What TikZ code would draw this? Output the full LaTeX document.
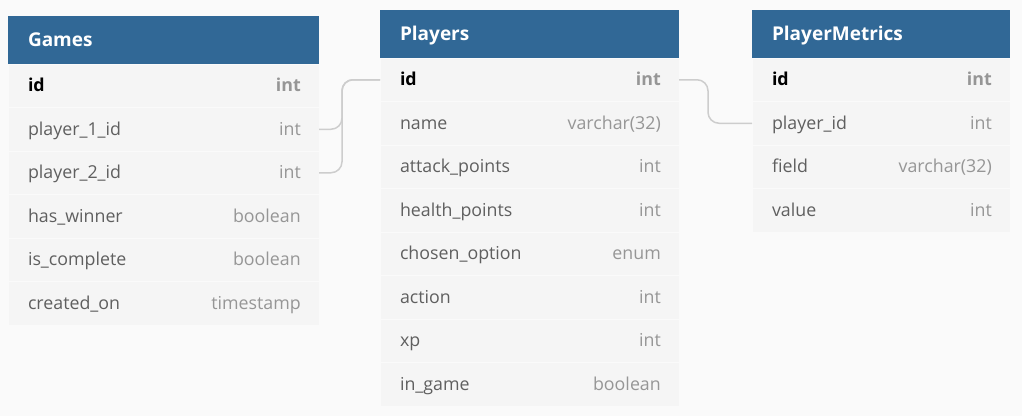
\documentclass[tikz,border=0pt]{standalone}
\usepackage{fontspec}
\setmainfont{Open Sans}
\usetikzlibrary{positioning}
\definecolor{headblue}{RGB}{49,104,150}
\definecolor{rowfill}{RGB}{245,245,245}
\definecolor{rowline}{RGB}{250,250,250}
\definecolor{pagebg}{RGB}{250,250,250}
\definecolor{namegray}{RGB}{95,95,95}
\definecolor{typegray}{RGB}{150,150,150}
\definecolor{linkgray}{RGB}{205,205,205}
\tikzset{head/.style = {rectangle,
                        fill=headblue,
                        text=white,
                        font=\fontsize{19}{21}\selectfont\bfseries,
                        inner xsep=20pt,
                        inner ysep=0pt,
                        outer sep=0pt,
                        minimum height=48pt,
                        text height=15pt,
                        text depth=1.5pt,
                        align=left},
         row/.style = {rectangle,
                       fill=rowfill,
                       draw=rowline,
                       line width=0.8pt,
                       text=namegray,
                       font=\fontsize{17.8}{20}\selectfont,
                       inner xsep=20pt,
                       inner ysep=0pt,
                       outer sep=0pt,
                       minimum height=43.5pt,
                       text height=14.5pt,
                       text depth=2.5pt,
                       align=left},
         typ/.style = {text=typegray,
                       font=\fontsize{17.8}{20}\selectfont,
                       inner sep=0pt,
                       text height=14.5pt,
                       text depth=2.5pt},
         key/.style = {font=\fontsize{17.8}{20}\selectfont\bfseries},
         pk/.style = {text=black},
         wg/.style = {text width=271pt},
         wp/.style = {text width=259pt},
         wm/.style = {text width=218pt},
         link/.style = {draw=linkgray, line width=1.5pt, rounded corners=11pt}}

\begin{document}
\begin{tikzpicture}
    \useasboundingbox[fill=pagebg] (0pt,0pt) rectangle (1022pt,-416pt);
    % Games
    \node (g) [head, wg, anchor=north west] at (8pt,-16pt) {Games};
    \node (g1) [row, wg, key, pk, below=0pt of g] {id};
    \node (g2) [row, wg, below=0pt of g1] {player\_1\_id};
    \node (g3) [row, wg, below=0pt of g2] {player\_2\_id};
    \node (g4) [row, wg, below=0pt of g3] {has\_winner};
    \node (g5) [row, wg, below=0pt of g4] {is\_complete};
    \node (g6) [row, wg, below=0pt of g5] {created\_on};
    \node (g1t) [typ, key, left=18pt of g1.east, anchor=east] {int};
    \node (g2t) [typ, left=18pt of g2.east, anchor=east] {int};
    \node (g3t) [typ, left=18pt of g3.east, anchor=east] {int};
    \node (g4t) [typ, left=18pt of g4.east, anchor=east] {boolean};
    \node (g5t) [typ, left=18pt of g5.east, anchor=east] {boolean};
    \node (g6t) [typ, left=18pt of g6.east, anchor=east] {timestamp};
    % Players
    \node (p) [head, wp, anchor=north west] at (380pt,-10pt) {Players};
    \node (p1) [row, wp, key, pk, below=0pt of p] {id};
    \node (p2) [row, wp, below=0pt of p1] {name};
    \node (p3) [row, wp, below=0pt of p2] {attack\_points};
    \node (p4) [row, wp, below=0pt of p3] {health\_points};
    \node (p5) [row, wp, below=0pt of p4] {chosen\_option};
    \node (p6) [row, wp, below=0pt of p5] {action};
    \node (p7) [row, wp, below=0pt of p6] {xp};
    \node (p8) [row, wp, below=0pt of p7] {in\_game};
    \node (p1t) [typ, key, left=18pt of p1.east, anchor=east] {int};
    \node (p2t) [typ, left=18pt of p2.east, anchor=east] {varchar(32)};
    \node (p3t) [typ, left=18pt of p3.east, anchor=east] {int};
    \node (p4t) [typ, left=18pt of p4.east, anchor=east] {int};
    \node (p5t) [typ, left=18pt of p5.east, anchor=east] {enum};
    \node (p6t) [typ, left=18pt of p6.east, anchor=east] {int};
    \node (p7t) [typ, left=18pt of p7.east, anchor=east] {int};
    \node (p8t) [typ, left=18pt of p8.east, anchor=east] {boolean};
    % PlayerMetrics
    \node (m) [head, wm, anchor=north west] at (752pt,-10pt) {PlayerMetrics};
    \node (m1) [row, wm, key, pk, below=0pt of m] {id};
    \node (m2) [row, wm, below=0pt of m1] {player\_id};
    \node (m3) [row, wm, below=0pt of m2] {field};
    \node (m4) [row, wm, below=0pt of m3] {value};
    \node (m1t) [typ, key, left=18pt of m1.east, anchor=east] {int};
    \node (m2t) [typ, left=18pt of m2.east, anchor=east] {int};
    \node (m3t) [typ, left=18pt of m3.east, anchor=east] {varchar(32)};
    \node (m4t) [typ, left=18pt of m4.east, anchor=east] {int};
    % references
    \draw[link] (g2.east) -- ++(23pt,0pt) |- (p1.west);
    \draw[link] (g3.east) -- ++(23pt,0pt) |- (p1.west);
    \draw[link] (p1.east) -- ++(29pt,0pt) |- (m2.west);
  \end{tikzpicture}
\end{document}
